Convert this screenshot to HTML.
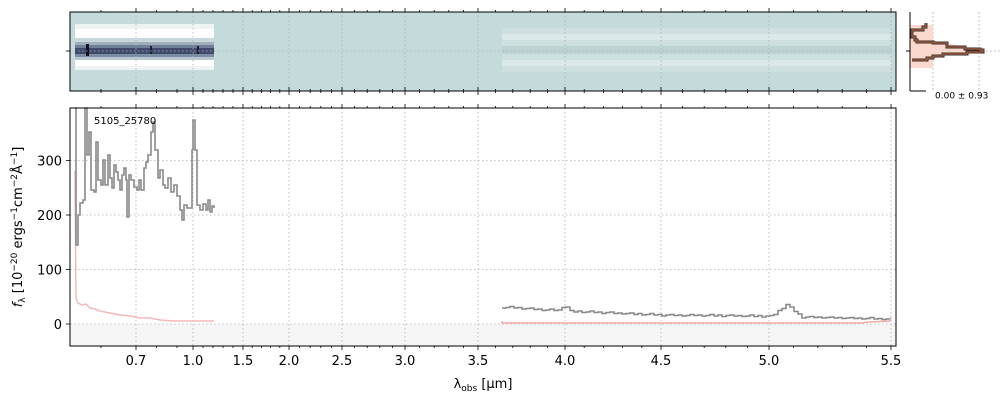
<!DOCTYPE html>
<html><head><meta charset="utf-8"><style>
html,body{margin:0;padding:0;background:#fff;}
svg{display:block;font-family:"DejaVu Sans","Liberation Sans",sans-serif;}
</style></head><body>
<svg id="s" width="1000" height="400" xmlns="http://www.w3.org/2000/svg">
<rect x="70" y="12" width="826" height="79" fill="#c5dbdb"/>
<g id="top2d"></g>
<rect x="70" y="324" width="826" height="22" fill="#f6f6f6"/>
<g id="grid" stroke="#b0b0b0" stroke-width="0.8" stroke-dasharray="1.5,2.5" fill="none"></g>
<g id="series"></g>
<rect x="70" y="12" width="826" height="79" fill="none" stroke="#000" stroke-width="1"/>
<rect x="70" y="108" width="826" height="238" fill="none" stroke="#000" stroke-width="1"/>
<g id="ticks" stroke="#000" stroke-width="0.8"></g>
<g id="labels" font-size="13" fill="#000"></g>
<text x="94" y="124" font-size="10">5105_25780</text>
<text x="483" y="388" font-size="13" text-anchor="middle">λ<tspan font-size="9" dy="3">obs</tspan><tspan dy="-3"> [μm]</tspan></text>
<text transform="translate(22,227) rotate(-90)" font-size="13" text-anchor="middle"><tspan font-style="italic">f</tspan><tspan font-size="9" dy="3">λ</tspan><tspan dy="-3"> [10</tspan><tspan font-size="9" dy="-5">−20</tspan><tspan dy="5"> ergs</tspan><tspan font-size="9" dy="-5">−1</tspan><tspan dy="5">cm</tspan><tspan font-size="9" dy="-5">−2</tspan><tspan dy="5">Å</tspan><tspan font-size="9" dy="-5">−1</tspan><tspan dy="5">]</tspan></text>
<g>
<line x1="933" y1="12" x2="933" y2="91" stroke="#b0b0b0" stroke-dasharray="1.5,2.5"/>
<line x1="979" y1="12" x2="979" y2="91" stroke="#b0b0b0" stroke-dasharray="1.5,2.5"/>
<line x1="910" y1="51" x2="1000" y2="51" stroke="#b0b0b0" stroke-dasharray="1.5,2.5"/>
<path d="M910,25 L933,25 L933,42 L947,43 L965,47 L980,49 L982,52 L967,52 L943,54 L933,56 L933,68 L910,68Z" fill="#fcd9cf"/>
<g fill="none" stroke-linejoin="miter">
<path id="hp" d="M926,23 L926,27 L923,27 L923,30 L912,30 L912,37 L915,37 L915,40 L917,40 L917,42 L933,42 L933,43 L947,43 L947,47 L965,47 L965,49 L980,49 L980,50 L983,50 L983,52 L967,52 L967,54 L943,54 L943,56 L933,56 L933,58 L927,58 L927,60 L912,60" stroke="#3a2a24" stroke-width="3"/>
<path d="M926,23 L926,27 L923,27 L923,30 L912,30 L912,37 L915,37 L915,40 L917,40 L917,42 L933,42 L933,43 L947,43 L947,47 L965,47 L965,49 L980,49 L980,50 L983,50 L983,52 L967,52 L967,54 L943,54 L943,56 L933,56 L933,58 L927,58 L927,60 L912,60" stroke="#c0704f" stroke-width="1"/>
</g>
<line x1="910" y1="12" x2="910" y2="91" stroke="#000"/>
<line x1="910" y1="91" x2="926" y2="91" stroke="#000"/>
<line x1="906" y1="51" x2="910" y2="51" stroke="#000"/>
<text x="935" y="93" font-size="9" dominant-baseline="hanging">0.00 ± 0.93</text>
</g>
</svg>
<script>
var NS="http://www.w3.org/2000/svg";
function el(p,t,a){var e=document.createElementNS(NS,t);for(var k in a)e.setAttribute(k,a[k]);document.getElementById(p).appendChild(e);return e;}
var K=[[0.5,60],[0.6,101],[0.7,136],[0.9,177],[1.0,193],[1.5,243],[2.0,289],[2.5,342],[3.0,405],[3.5,478],[4.0,565],[4.5,661],[5.0,769],[5.5,891]];
function X(w){for(var i=0;i<K.length-1;i++){if(w<=K[i+1][0]){var a=K[i],b=K[i+1];return a[1]+(w-a[0])/(b[0]-a[0])*(b[1]-a[1]);}}return 891;}
var maj=[0.7,1.0,1.5,2.0,2.5,3.0,3.5,4.0,4.5,5.0,5.5];
var ml=["0.7","1.0","1.5","2.0","2.5","3.0","3.5","4.0","4.5","5.0","5.5"];
maj.forEach(function(w,i){var x=X(w);
 el("grid","line",{x1:x,y1:12,x2:x,y2:91});el("grid","line",{x1:x,y1:108,x2:x,y2:346});
 [[12,-4],[91,-4],[91,4],[108,-4],[346,4]].forEach(function(t){el("ticks","line",{x1:x,y1:t[0],x2:x,y2:t[0]+t[1]});});
 var tx=el("labels","text",{x:x,y:365,"text-anchor":"middle"});tx.textContent=ml[i];});
for(var w=0.6;w<5.55;w+=0.1){var r=Math.round(w*10)/10;if(maj.indexOf(r)>=0)continue;var x=X(r);
 [[12,-2],[91,-2],[91,2],[108,-2],[346,2]].forEach(function(t){el("ticks","line",{x1:x,y1:t[0],x2:x,y2:t[0]+t[1]});});}
el("grid","line",{x1:70,y1:51,x2:896,y2:51});
el("ticks","line",{x1:66,y1:51,x2:70,y2:51});
[0,100,200,300].forEach(function(v){var y=324-0.545*v;el("grid","line",{x1:70,y1:y,x2:896,y2:y});
 el("ticks","line",{x1:66,y1:y,x2:70,y2:y});var t=el("labels","text",{x:62,y:y+5,"text-anchor":"end"});t.textContent=v;});
// 2D spectrum left
el("top2d","rect",{x:75,y:24,width:139,height:46,fill:"#ffffff"});
el("top2d","rect",{x:75,y:24,width:139,height:5,fill:"#eef3f4"});
el("top2d","rect",{x:75,y:38,width:139,height:4,fill:"#c8d8dc"});
el("top2d","rect",{x:75,y:42,width:139,height:3,fill:"#9fb0bc"});
el("top2d","rect",{x:75,y:45,width:139,height:3,fill:"#6f7f98"});
el("top2d","rect",{x:75,y:48,width:139,height:6,fill:"#404a6c"});
el("top2d","rect",{x:75,y:54,width:139,height:3,fill:"#7d8da4"});
el("top2d","rect",{x:75,y:57,width:139,height:3,fill:"#b8c8d0"});
el("top2d","rect",{x:75,y:66,width:139,height:4,fill:"#eef3f4"});
el("top2d","rect",{x:86,y:44,width:3,height:12,fill:"#101020"});
el("top2d","rect",{x:150,y:46,width:2,height:8,fill:"#202035"});
el("top2d","rect",{x:197,y:46,width:2,height:8,fill:"#202035"});
// right faint
el("top2d","rect",{x:502,y:28,width:389,height:44,fill:"#cddfdf"});
el("top2d","rect",{x:502,y:34,width:389,height:6,fill:"#dbe8e8"});
el("top2d","rect",{x:502,y:46,width:389,height:8,fill:"#bdd2d2"});
el("top2d","rect",{x:502,y:60,width:389,height:6,fill:"#dbe8e8"});
// series
function path(pts,c,w){var d="M"+pts.map(function(p){return p[0]+","+p[1];}).join(" L");el("series","path",{d:d,fill:"none",stroke:c,"stroke-width":w,"stroke-linejoin":"miter"});}
function steps(pts){var o=[];for(var i=0;i<pts.length;i++){o.push(pts[i]);if(i<pts.length-1)o.push([pts[i+1][0],pts[i][1]]);}return o;}
var pinkL=[[74,172],[75,172],[76,298],[78,303],[82,305],[86,304],[90,308],[95,309],[100,311],[110,313],[120,315],[130,316],[140,318],[150,318],[160,320],[175,321],[190,321],[214,321]];
path(pinkL,"#f4b8b8",1.5);
var g=[[75,108],[76,245],[78,215],[80,203],[83,200],[85,108],[87,155],[89,132],[91,190],[94,192],[96,142],[98,180],[101,185],[103,160],[105,185],[108,155],[110,178],[112,188],[114,165],[116,172],[118,180],[120,190],[122,175],[124,168],[126,180],[127,217],[129,175],[131,180],[134,187],[137,190],[139,180],[141,190],[144,168],[146,162],[148,155],[151,132],[153,122],[155,150],[158,178],[160,170],[163,185],[165,188],[168,178],[171,192],[174,185],[177,196],[180,210],[182,220],[184,205],[187,208],[190,208],[192,150],[193,120],[195,150],[197,205],[200,210],[203,204],[206,210],[208,200],[210,212],[212,206],[214,208]];
path(steps(g),"#888",1.6);
var gR=[];var base=[[502,307],[565,311],[661,315],[760,316],[891,319]];
for(var x=502;x<=891;x+=4){var y;for(var i=0;i<base.length-1;i++){if(x<=base[i+1][0]){y=base[i][1]+(x-base[i][0])/(base[i+1][0]-base[i][0])*(base[i+1][1]-base[i][1]);break;}}
 if(x>=766&&x<=798){y-=Math.max(0,12-Math.abs(x-786)*0.8);}if(x>=560&&x<=568)y-=4;y+=((x*37)%5-2)*0.4;gR.push([x,Math.round(y*2)/2]);}
path(steps(gR),"#888",1.6);
path([[502,321],[502,323],[860,323],[870,322],[890,321],[891,317]],"#f4a8a8",1.5);
</script>
</body></html>
